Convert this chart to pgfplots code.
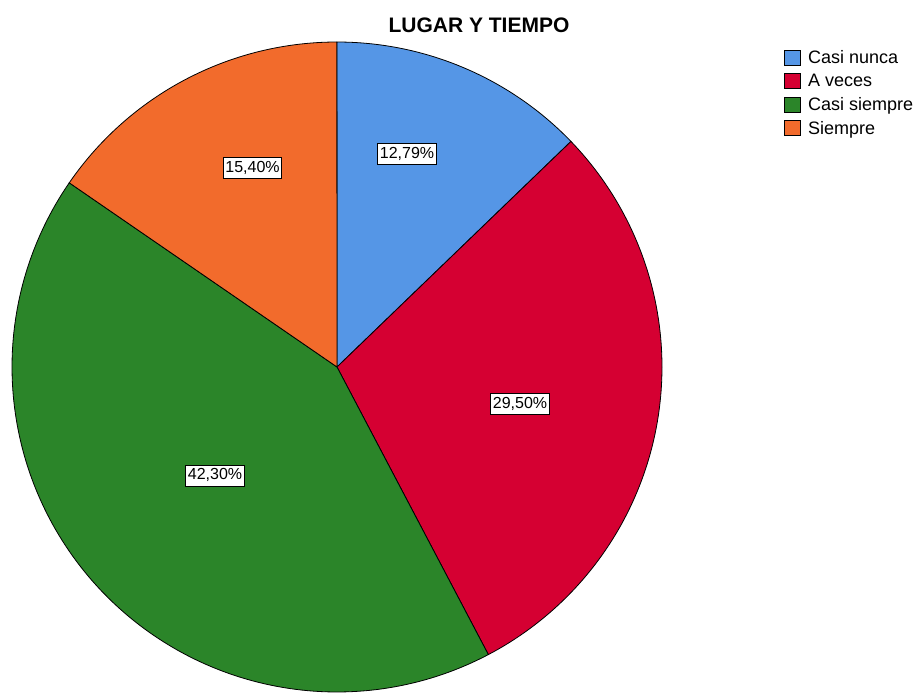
\documentclass[border=0pt]{standalone}
\usepackage{pgfplots}
\pgfplotsset{compat=1.18}
\usepackage{fontspec}
\setmainfont{Liberation Sans}
\definecolor{cblue}{RGB}{85,150,230}
\definecolor{cred}{RGB}{213,0,50}
\definecolor{cgreen}{RGB}{43,133,41}
\definecolor{corange}{RGB}{242,107,44}
\tikzset{label box/.style={draw=black, fill=white, line width=0.8pt, font=\fontsize{16}{18}\selectfont,
    inner xsep=2pt, inner ysep=3pt, text height=12pt, text depth=3pt}}
% values (percent)
\def\va{12.79}
\def\vb{29.50}
\def\vc{42.30}
\def\vd{15.40}
\pgfmathsetmacro\aA{90}
\pgfmathsetmacro\aB{\aA-3.6*\va}
\pgfmathsetmacro\aC{\aB-3.6*\vb}
\pgfmathsetmacro\aD{\aC-3.6*\vc}
\pgfmathsetmacro\aE{\aD-3.6*\vd}
\def\cx{337}
\def\cy{326}
\def\R{325}
\begin{document}
\begin{tikzpicture}
\begin{axis}[
  scale only axis, width=917pt, height=693pt,
  xmin=0, xmax=917, ymin=0, ymax=693,
  hide axis, clip=false,
  legend cell align=left,
  legend style={at={(axis cs:784,647)}, anchor=north west, draw=none, fill=none,
    inner sep=0pt, row sep=0pt, column sep=7pt,
    font=\fontsize{18}{20}\selectfont,
    nodes={inner sep=0pt, minimum height=23.5pt, anchor=west}},
  legend image code/.code={\draw[#1,draw=black,line width=1pt] (0pt,-7.5pt) rectangle (16pt,7.5pt);},
]
\addplot[fill=cblue, draw=black, line width=0.8pt, domain=\aB:\aA, samples=60]
  ({\cx+\R*cos(x)},{\cy+\R*sin(x)}) -- (axis cs:\cx,\cy) -- cycle;
\addlegendentry{Casi nunca}
\addplot[fill=cred, draw=black, line width=0.8pt, domain=\aC:\aB, samples=100]
  ({\cx+\R*cos(x)},{\cy+\R*sin(x)}) -- (axis cs:\cx,\cy) -- cycle;
\addlegendentry{A veces}
\addplot[fill=cgreen, draw=black, line width=0.8pt, domain=\aD:\aC, samples=140]
  ({\cx+\R*cos(x)},{\cy+\R*sin(x)}) -- (axis cs:\cx,\cy) -- cycle;
\addlegendentry{Casi siempre}
\addplot[fill=corange, draw=black, line width=0.8pt, domain=\aE:\aD, samples=60]
  ({\cx+\R*cos(x)},{\cy+\R*sin(x)}) -- (axis cs:\cx,\cy) -- cycle;
\addlegendentry{Siempre}
\node[label box] at (axis cs:407,539) {12,79\%};
\node[label box] at (axis cs:520,289) {29,50\%};
\node[label box] at (axis cs:215,217.5) {42,30\%};
\node[label box] at (axis cs:252.5,525) {15,40\%};
\node[font=\fontsize{21}{23}\selectfont\bfseries] at (axis cs:479,668) {LUGAR Y TIEMPO};
\end{axis}
\pgfresetboundingbox
\useasboundingbox (0,0) rectangle (917pt,693pt);
\end{tikzpicture}
\end{document}
